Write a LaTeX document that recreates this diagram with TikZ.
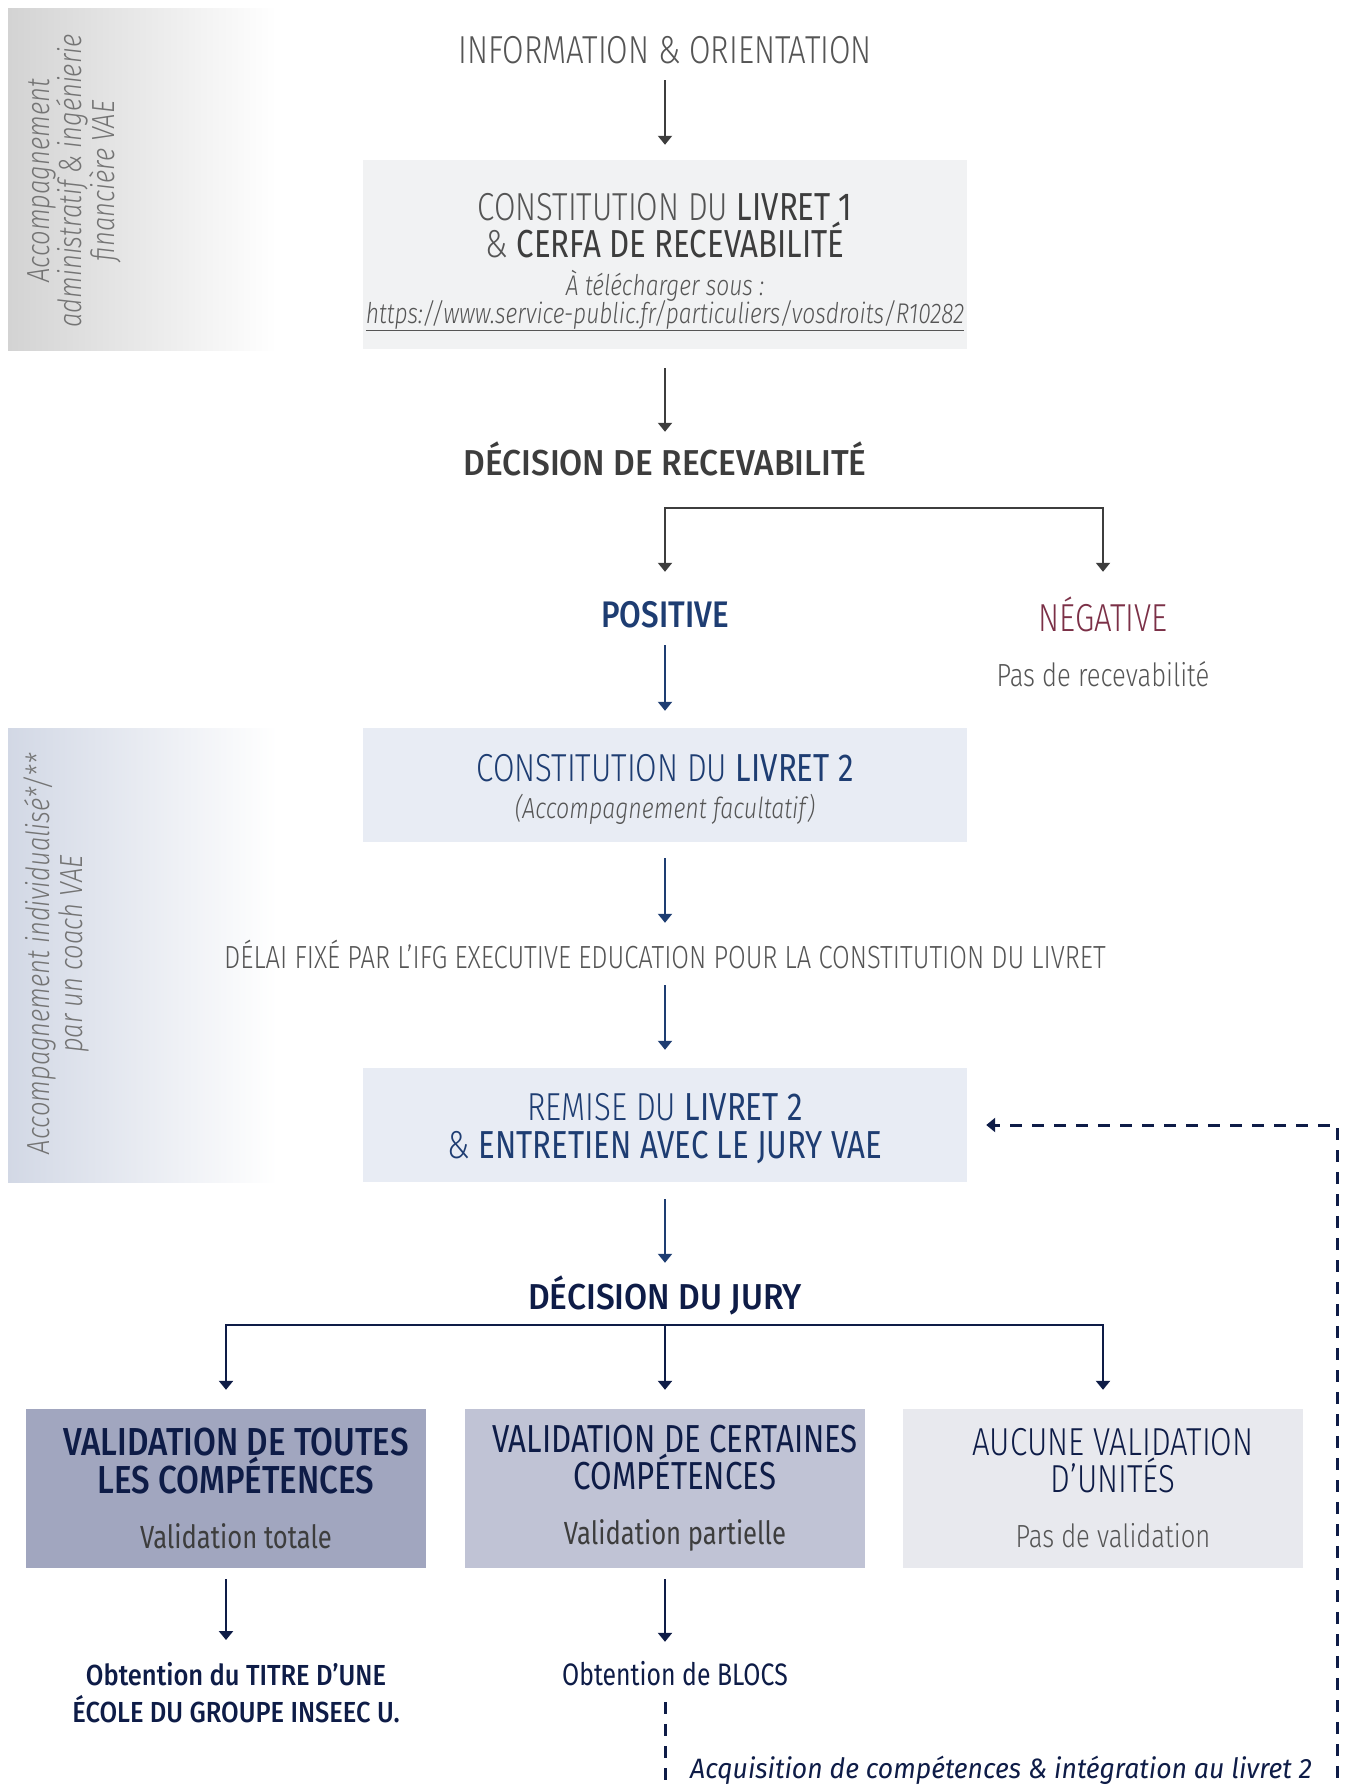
\documentclass[tikz,border=0pt]{standalone}
\usepackage{fontspec}
\IfFontExistsTF{Fira Sans Light}{%
  \IfFontExistsTF{Fira Sans Light Italic}{%
    \setmainfont{Fira Sans Light}[ItalicFont={Fira Sans Light Italic}, FakeStretch=0.8]}{%
    \setmainfont{Fira Sans}[FakeStretch=0.8]}}{%
  \setmainfont{Fira Sans}[FakeStretch=0.8]}
\newfontfamily\rgfont{Fira Sans}[FakeStretch=0.8]
\IfFontExistsTF{Fira Sans Medium}{%
  \newfontfamily\titrefont{Fira Sans Medium}[FakeStretch=0.93]
  \newfontfamily\ecolefont{Fira Sans Medium}[FakeStretch=0.88]}{%
  \newfontfamily\titrefont{Fira Sans}[UprightFont={* Bold}, FakeStretch=0.9]
  \newfontfamily\ecolefont{Fira Sans}[UprightFont={* Bold}, FakeStretch=0.86]}
\newfontfamily\acqfont{Fira Sans}[FakeStretch=0.95]
\usetikzlibrary{arrows.meta}

\definecolor{gristexte}{HTML}{555555}
\definecolor{grisfonce}{HTML}{3D3D3D}
\definecolor{grisbande}{HTML}{747474}
\definecolor{bleu}{HTML}{1E3D72}
\definecolor{marine}{HTML}{0E1C47}
\definecolor{bordeaux}{HTML}{7B3047}
\definecolor{fond1}{HTML}{F1F2F3}
\definecolor{fond2}{HTML}{E8ECF4}
\definecolor{valfonce}{HTML}{A1A6BF}
\definecolor{valmoyen}{HTML}{C0C3D5}
\definecolor{valclair}{HTML}{E8E9EE}
\definecolor{bande1}{HTML}{D3D3D3}
\definecolor{bande2}{HTML}{D2D8E5}

\newcommand{\taille}[2]{\fontsize{#1}{#2}\selectfont}

\tikzset{
  pointe/.tip={Triangle[width=14pt,length=9pt]},
  fleche/.style={draw=#1, line width=2pt, -pointe},
  fourche/.style={draw=#1, line width=2pt, pointe-pointe},
  retour/.style={draw=marine, line width=3pt, dash pattern=on 12pt off 10pt, -pointe},
  titre/.style={inner sep=0, text height=#1, text depth=0pt},
  etape/.style={fill=#1, minimum width=604pt, inner sep=0, align=center},
  resultat/.style={fill=#1, minimum width=400pt, minimum height=159pt, inner sep=0,
    align=center, text=marine, font=\taille{39}{37}},
  bandeau/.style={rotate=90, align=center, text=grisbande, inner sep=0}
}

\begin{document}
\begin{tikzpicture}[x=1pt, y=-1pt]
  \useasboundingbox (0,0) rectangle (1351,1787);

  % bandeaux lateraux
  \fill[left color=bande1, right color=white] (8,9) rectangle (277,350);
  \fill[left color=bande2, right color=white] (8,728) rectangle (277,1182);
  \node[bandeau, font=\itshape\taille{32}{31}] (admin) at (74,181)
    {Accompagnement\\administratif \& ingénierie\\financière VAE};
  \node[bandeau, font=\itshape\taille{32}{33}] (coach) at (56,954)
    {Accompagnement individualisé*/**\\par un coach VAE};

  % recevabilite
  \node[titre=27pt, text=gristexte, font=\taille{39}{35}] (info) at (665,50) {INFORMATION \& ORIENTATION};
  \node[etape=fond1, minimum height=189pt, text=gristexte, font=\taille{39}{35}] (livret1) at (665,254.5)
    {\rule{0pt}{42pt}CONSTITUTION DU {\rgfont\color{grisfonce}LIVRET 1}\\
     \& {\rgfont\color{grisfonce}CERFA DE RECEVABILITÉ}\\[3pt]
     {\taille{28.5}{35}\itshape À télécharger sous :}\\[-7pt]
     {\taille{28.5}{35}\itshape\underline{https://www.service-public.fr/particuliers/vosdroits/R10282}}};
  \node[titre=25pt, text=grisfonce, font=\titrefont\taille{36}{36}] (recev) at (665,463) {DÉCISION DE RECEVABILITÉ};
  \node[titre=27pt, text=bleu, font=\titrefont\addfontfeatures{FakeStretch=0.85}\taille{37}{37}] (positive) at (665,614) {POSITIVE};
  \node[titre=27pt, text=bordeaux, font=\taille{39}{39}] (negative) at (1103,618) {NÉGATIVE};
  \node[titre=22pt, text=gristexte, font=\taille{32}{32}] (pasrecev) at (1103,675) {Pas de recevabilité};

  \draw[fleche=grisfonce, shorten <=16.5pt, shorten >=15pt] (info) -- (livret1);
  \draw[fleche=grisfonce, shorten <=19pt, shorten >=18.5pt] (livret1) -- (recev);
  \coordinate (fourche1) at (884,508);
  \draw[fourche=grisfonce, shorten <=28.5pt, shorten >=32.5pt] (positive) |- (fourche1) -| (negative);

  % livret 2
  \node[etape=fond2, minimum height=114pt, text=bleu, font=\taille{39}{37}] (livret2) at (665,785)
    {\rule{0pt}{36pt}CONSTITUTION DU {\rgfont LIVRET 2}\\
     {\taille{29}{37}\itshape\color{gristexte}(Accompagnement facultatif)}};
  \node[titre=22pt, text=gristexte, font=\taille{32}{32}] (delai) at (665,957)
    {DÉLAI FIXÉ PAR L’IFG EXECUTIVE EDUCATION POUR LA CONSTITUTION DU LIVRET};
  \node[etape=fond2, minimum height=114pt, text=bleu, font=\taille{39}{38}] (remise) at (665,1125)
    {\rule{0pt}{34pt}REMISE DU {\rgfont LIVRET 2}\\
     \& {\rgfont ENTRETIEN AVEC LE JURY VAE}};
  \node[titre=25pt, text=marine, font=\titrefont\taille{36}{36}] (jury) at (665,1297) {DÉCISION DU JURY};

  \draw[fleche=bleu, shorten <=17.5pt, shorten >=17pt] (positive) -- (livret2);
  \draw[fleche=bleu, shorten <=16pt, shorten >=23pt] (livret2) -- (delai);
  \draw[fleche=bleu, shorten <=17pt, shorten >=18pt] (delai) -- (remise);
  \draw[fleche=bleu, shorten <=17pt, shorten >=21.5pt] (remise) -- (jury);

  % decision du jury
  \node[resultat=valfonce] (valA) at (226,1488.5)
    {\hspace*{20pt}{\titrefont\addfontfeatures{FakeStretch=0.85}VALIDATION DE TOUTES}\\
     \hspace*{20pt}{\titrefont\addfontfeatures{FakeStretch=0.85}LES COMPÉTENCES}\\[18pt]
     \hspace*{20pt}{\rgfont\taille{32}{37}\color{grisfonce}Validation totale}};
  \node[resultat=valmoyen] (valB) at (665,1488.5)
    {\hspace*{20pt}{\rgfont VALIDATION DE CERTAINES}\\
     \hspace*{20pt}{\rgfont COMPÉTENCES}\\[18pt]
     \hspace*{20pt}{\rgfont\taille{32}{37}\color{grisfonce}Validation partielle}};
  \node[resultat=valclair] (valC) at (1103,1488.5)
    {\hspace*{20pt}AUCUNE VALIDATION\\
     \hspace*{20pt}D’UNITÉS\\[18pt]
     \hspace*{20pt}{\taille{32}{37}\color{gristexte}Pas de validation}};

  \coordinate (fourche2) at (665,1325);
  \draw[fourche=marine, line width=2.5pt, shorten <=19pt, shorten >=19pt] (valA) |- (fourche2) -| (valC);
  \draw[fleche=marine, line width=2.5pt, shorten >=19pt] (fourche2) -- (valB);

  % obtention
  \node[inner sep=0, align=center, text=marine, font=\ecolefont\taille{29}{37}] (titreecole) at (236,1693)
    {Obtention du TITRE D’UNE\\ÉCOLE DU GROUPE INSEEC U.};
  \node[titre=20pt, text=marine, font=\rgfont\taille{31}{31}] (blocs) at (675,1675) {Obtention de BLOCS};
  \node[inner sep=0, text=marine, font=\acqfont\itshape\taille{28}{28}] (acquis) at (1001,1770)
    {Acquisition de compétences \& intégration au livret 2};

  \draw[fleche=marine, line width=2.5pt, shorten <=11pt, shorten >=22.5pt] (valA.south) -- (valA.south |- titreecole.north);
  \draw[fleche=marine, line width=2.5pt, shorten <=11pt, shorten >=23pt] (valB.south) -- (valB.south |- blocs.north);

  \coordinate (coinbas) at (1337,1800);
  \draw[retour, shorten <=17pt, shorten >=19pt] (valB.south |- blocs.south) -- (valB.south |- coinbas) -- (coinbas) |- (remise.east);
\end{tikzpicture}
\end{document}
